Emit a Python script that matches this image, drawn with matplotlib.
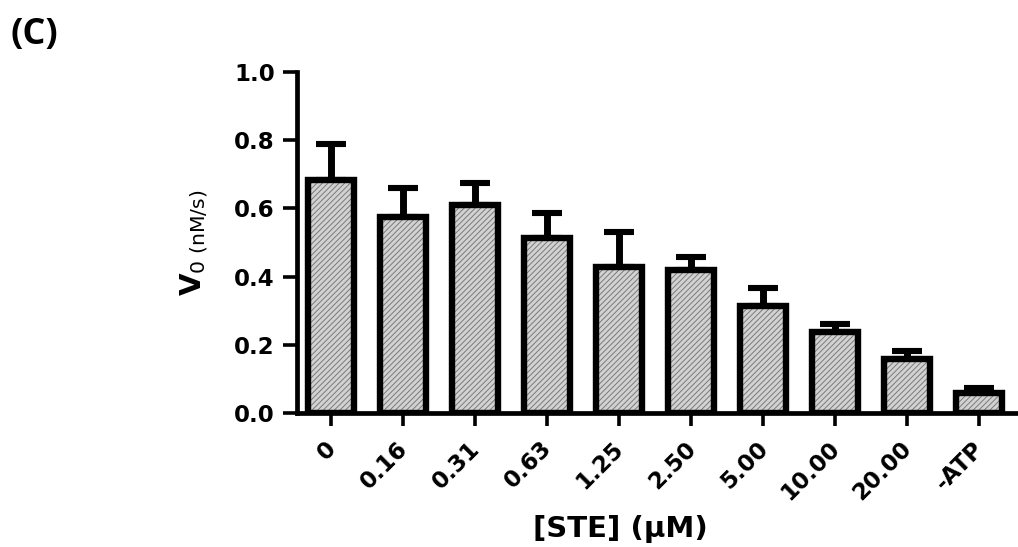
import matplotlib
matplotlib.use("Agg")
import matplotlib.pyplot as plt
import numpy as np
import matplotlib.transforms as mtransforms

# data
labels = ['0', '0.16', '0.31', '0.63', '1.25', '2.50', '5.00', '10.00', '20.00', '-ATP']
v0 = [0.683, 0.575, 0.610, 0.513, 0.427, 0.419, 0.315, 0.237, 0.158, 0.059]
err = [0.107, 0.085, 0.065, 0.074, 0.103, 0.038, 0.051, 0.023, 0.024, 0.014]

plt.rcParams['font.family'] = 'DejaVu Sans'
plt.rcParams['mathtext.fontset'] = 'dejavusans'
plt.rcParams['hatch.linewidth'] = 0.7

fig = plt.figure(figsize=(10.18, 5.47), dpi=100)
ax = fig.add_axes([297/1018, 1-413/547, 720/1018, 341/547])

x = np.arange(len(labels))
w = 0.63
# hatched fill, then the black outline on top
ax.bar(x, v0, width=w, color='#d2d2d2', edgecolor='#7a7a7a', hatch='//////', linewidth=0, zorder=2)
ax.bar(x, v0, width=w, fill=False, edgecolor='black', linewidth=4.6, zorder=3)
ax.errorbar(x, v0, yerr=[np.zeros(len(err)), err], fmt='none', ecolor='black',
            elinewidth=5.0, capsize=10.5, capthick=4.4, zorder=1)

ax.set_xlim(-0.47, 9.53)
ax.set_ylim(0, 1.0)
ax.set_yticks([0.0, 0.2, 0.4, 0.6, 0.8, 1.0])
ax.set_yticklabels(['0.0', '0.2', '0.4', '0.6', '0.8', '1.0'])
ax.set_xticks(x)
ax.set_xticklabels(labels, rotation=45, ha='right', va='center', rotation_mode='anchor')

for s in ['top', 'right']:
    ax.spines[s].set_visible(False)
for s in ['left', 'bottom']:
    ax.spines[s].set_linewidth(3.4)
ax.tick_params(axis='y', length=10, width=2.6, pad=6, labelsize=16.5)
ax.tick_params(axis='x', length=9, width=2.6, pad=8, labelsize=16.5)
for t in ax.get_xticklabels() + ax.get_yticklabels():
    t.set_fontweight('bold')
# nudge the rotated x tick labels down a bit
off = mtransforms.ScaledTranslation(1/72, -6/72, fig.dpi_scale_trans)
for t in ax.get_xticklabels():
    t.set_transform(t.get_transform() + off)

ax.set_ylabel(r'$\mathbf{V}_{\mathrm{0\ (nM/s)}}$', fontsize=21)
ax.yaxis.set_label_coords(-0.121, 0.5)
ax.set_xlabel('[STE] (μM)', fontsize=21, fontweight='bold')
ax.xaxis.set_label_coords(0.449, -0.3)

fig.text(10/1018, 1-44/547, '(C)', fontsize=26, fontweight='bold', family='Open Sans')

fig.savefig('out.png', dpi=100)
